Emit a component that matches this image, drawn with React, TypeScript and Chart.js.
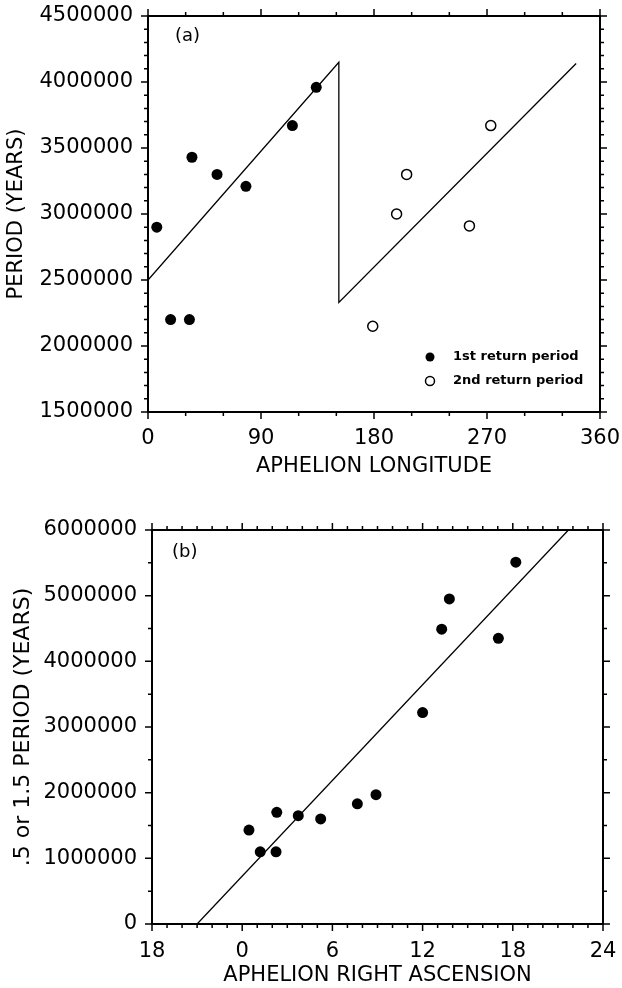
import React, { useEffect, useRef } from "react";
import { Chart, registerables } from "chart.js";

Chart.register(...registerables);

const FONT = "'DejaVu Sans', 'Liberation Sans', sans-serif";

// ---------- Panel (a) data ----------
const firstReturnLongitude = [7, 18, 33, 35, 55, 78, 115, 134];
const firstReturnPeriod = [2900000, 2200000, 2200000, 3430000, 3300000, 3210000, 3670000, 3960000];
const secondReturnLongitude = [179, 198, 206, 256, 273];
const secondReturnPeriod = [2150000, 3000000, 3300000, 2910000, 3670000];
const fitALongitude = [0, 152, 152, 341];
const fitAPeriod = [2500000, 4150000, 2330000, 4140000];
const aXTickLabels = ["0", "90", "180", "270", "360"];
const aYTickLabels = ["1500000", "2000000", "2500000", "3000000", "3500000", "4000000", "4500000"];
const aXRange = [0, 360];
const aYRange = [1500000, 4500000];
const aLegendLabels = ["1st return period", "2nd return period"];

// ---------- Panel (b) data ----------
const rightAscension = [0.45, 1.2, 2.25, 2.3, 3.73, 5.22, 7.66, 8.9, 12.0, 13.27, 13.78, 17.04, 18.2];
const scaledPeriod = [1430000, 1100000, 1100000, 1700000, 1650000, 1600000, 1830000, 1970000, 3220000, 4490000, 4950000, 4350000, 5510000];
const fitBRA = [-3, 21.7];
const fitBPeriod = [0, 6000000];
const bXTickLabels = ["18", "0", "6", "12", "18", "24"];
const bYTickLabels = ["0", "1000000", "2000000", "3000000", "4000000", "5000000", "6000000"];
const bXRange = [-6, 24];
const bYRange = [0, 6000000];

const pts = (xs: number[], ys: number[]) => xs.map((x, i) => ({ x, y: ys[i] }));

const framePlugin = {
  id: "frame",
  afterDraw(chart: any, _args: any, opts: any) {
    const { ctx, chartArea: a, scales } = chart;
    const x = scales.x;
    const y = scales.y;
    ctx.save();
    ctx.strokeStyle = "#000";
    ctx.lineWidth = 2;
    ctx.strokeRect(a.left, a.top, a.right - a.left, a.bottom - a.top);
    ctx.lineWidth = 1.5;
    const nx = Math.round((x.max - x.min) / opts.xMinor);
    for (let i = 0; i <= nx; i++) {
      const v = x.min + i * opts.xMinor;
      const q = (v - x.min) / opts.xMajor;
      const major = Math.abs(q - Math.round(q)) < 1e-6;
      const len = major ? 7 : 4;
      const px = x.getPixelForValue(v);
      ctx.beginPath();
      ctx.moveTo(px, a.bottom);
      ctx.lineTo(px, a.bottom + len);
      ctx.moveTo(px, a.top);
      ctx.lineTo(px, a.top - len);
      ctx.stroke();
    }
    const ny = Math.round((y.max - y.min) / opts.yMinor);
    for (let i = 0; i <= ny; i++) {
      const v = y.min + i * opts.yMinor;
      const q = (v - y.min) / opts.yMajor;
      const major = Math.abs(q - Math.round(q)) < 1e-6;
      const len = major ? 7 : 4;
      const py = y.getPixelForValue(v);
      ctx.beginPath();
      ctx.moveTo(a.left, py);
      ctx.lineTo(a.left - len, py);
      ctx.moveTo(a.right, py);
      ctx.lineTo(a.right + len, py);
      ctx.stroke();
    }
    // panel label
    ctx.fillStyle = "#000";
    ctx.font = `18px ${FONT}`;
    ctx.textAlign = "left";
    ctx.textBaseline = "middle";
    ctx.fillText(opts.label, a.left + opts.labelDx, a.top + opts.labelDy);
    // legend
    if (opts.legend) {
      ctx.font = `bold 13px ${FONT}`;
      opts.legend.forEach((lab: string, i: number) => {
        const cx = a.right - 170;
        const cy = a.bottom - 55 + i * 24;
        ctx.beginPath();
        ctx.arc(cx, cy, 4.5, 0, Math.PI * 2);
        if (i === 0) {
          ctx.fill();
        } else {
          ctx.lineWidth = 1.5;
          ctx.stroke();
        }
        ctx.fillText(lab, cx + 23, cy);
      });
    }
    ctx.restore();
  },
};

const zeroPad = (s: any) => {
  s.paddingLeft = 0;
  s.paddingRight = 0;
  s.paddingTop = 0;
  s.paddingBottom = 0;
};

function makeScales(opts: any) {
  return {
    x: {
      type: "linear",
      min: opts.xRange[0],
      max: opts.xRange[1],
      afterFit: (s: any) => {
        s.height = opts.xAxisHeight;
        zeroPad(s);
      },
      afterBuildTicks: (s: any) => {
        s.ticks = opts.xTickLabels.map((_: string, i: number) => ({ value: opts.xRange[0] + i * opts.xStep }));
      },
      ticks: {
        callback: (_v: any, i: number) => opts.xTickLabels[i],
        color: "#000",
        font: { family: FONT, size: 21 },
        padding: opts.xTickPad,
        maxRotation: 0,
        autoSkip: false,
      },
      grid: { display: false, drawTicks: false },
      border: { display: false },
      title: {
        display: true,
        text: opts.xTitle,
        color: "#000",
        font: { family: FONT, size: 21 },
        padding: { top: 0, bottom: opts.xTitlePad },
      },
    },
    y: {
      type: "linear",
      min: opts.yRange[0],
      max: opts.yRange[1],
      afterFit: (s: any) => {
        s.width = opts.yAxisWidth;
        zeroPad(s);
      },
      afterBuildTicks: (s: any) => {
        s.ticks = opts.yTickLabels.map((_: string, i: number) => ({ value: opts.yRange[0] + i * opts.yStep }));
      },
      ticks: {
        callback: (_v: any, i: number) => opts.yTickLabels[i],
        color: "#000",
        font: { family: FONT, size: 21 },
        padding: 15,
        autoSkip: false,
      },
      grid: { display: false, drawTicks: false },
      border: { display: false },
      title: {
        display: true,
        text: opts.yTitle,
        color: "#000",
        font: { family: FONT, size: opts.yTitleSize },
        padding: { top: opts.yTitlePad, bottom: 0 },
      },
    },
  };
}

function PanelA() {
  const ref = useRef<HTMLCanvasElement>(null);
  useEffect(() => {
    const chart = new Chart(ref.current as HTMLCanvasElement, {
      type: "scatter",
      data: {
        datasets: [
          {
            label: aLegendLabels[0],
            data: pts(firstReturnLongitude, firstReturnPeriod),
            pointRadius: 5.5,
            pointBackgroundColor: "#000",
            pointBorderColor: "#000",
            pointBorderWidth: 0,
          },
          {
            label: aLegendLabels[1],
            data: pts(secondReturnLongitude, secondReturnPeriod),
            pointRadius: 5,
            pointBackgroundColor: "#fff",
            pointBorderColor: "#000",
            pointBorderWidth: 1.5,
          },
          {
            label: "fit",
            data: pts(fitALongitude, fitAPeriod),
            showLine: true,
            pointRadius: 0,
            borderColor: "#000",
            borderWidth: 1.3,
            tension: 0,
          },
        ],
      },
      options: {
        responsive: false,
        animation: false,
        layout: { padding: { top: 16, right: 22, left: 0, bottom: 0 } },
        plugins: {
          legend: { display: false },
          tooltip: { enabled: false },
          frame: { xMinor: 30, xMajor: 90, yMinor: 100000, yMajor: 500000, label: "(a)", labelDx: 27, labelDy: 20, legend: aLegendLabels },
        } as any,
        scales: makeScales({
          xRange: aXRange,
          yRange: aYRange,
          xStep: 90,
          yStep: 500000,
          xTickLabels: aXTickLabels,
          yTickLabels: aYTickLabels,
          xAxisHeight: 78,
          yAxisWidth: 148,
          xTickPad: 14,
          xTitle: "APHELION LONGITUDE",
          xTitlePad: 11,
          yTitle: "PERIOD (YEARS)",
          yTitleSize: 21,
          yTitlePad: 4,
        }) as any,
      },
      plugins: [framePlugin],
    } as any);
    return () => chart.destroy();
  }, []);
  return <canvas ref={ref} width={622} height={490} style={{ display: "block" }} />;
}

function PanelB() {
  const ref = useRef<HTMLCanvasElement>(null);
  useEffect(() => {
    const chart = new Chart(ref.current as HTMLCanvasElement, {
      type: "scatter",
      data: {
        datasets: [
          {
            label: "points",
            data: pts(rightAscension, scaledPeriod),
            pointRadius: 5.5,
            pointBackgroundColor: "#000",
            pointBorderColor: "#000",
            pointBorderWidth: 0,
          },
          {
            label: "fit",
            data: pts(fitBRA, fitBPeriod),
            showLine: true,
            pointRadius: 0,
            borderColor: "#000",
            borderWidth: 1.3,
            tension: 0,
          },
        ],
      },
      options: {
        responsive: false,
        animation: false,
        layout: { padding: { top: 40, right: 19, left: 0, bottom: 0 } },
        plugins: {
          legend: { display: false },
          tooltip: { enabled: false },
          frame: { xMinor: 1, xMajor: 6, yMinor: 500000, yMajor: 1000000, label: "(b)", labelDx: 20, labelDy: 22, legend: null },
        } as any,
        scales: makeScales({
          xRange: bXRange,
          yRange: bYRange,
          xStep: 6,
          yStep: 1000000,
          xTickLabels: bXTickLabels,
          yTickLabels: bYTickLabels,
          xAxisHeight: 64,
          yAxisWidth: 152,
          xTickPad: 15,
          xTitle: "APHELION RIGHT ASCENSION",
          xTitlePad: 0,
          yTitle: ".5 or 1.5 PERIOD (YEARS)",
          yTitleSize: 22,
          yTitlePad: 10,
        }) as any,
      },
      plugins: [framePlugin],
    } as any);
    return () => chart.destroy();
  }, []);
  return <canvas ref={ref} width={622} height={498} style={{ display: "block" }} />;
}

export default function App() {
  return (
    <div style={{ position: "absolute", left: 0, top: 0, width: 622, height: 988, background: "#fff" }}>
      <PanelA />
      <PanelB />
    </div>
  );
}
